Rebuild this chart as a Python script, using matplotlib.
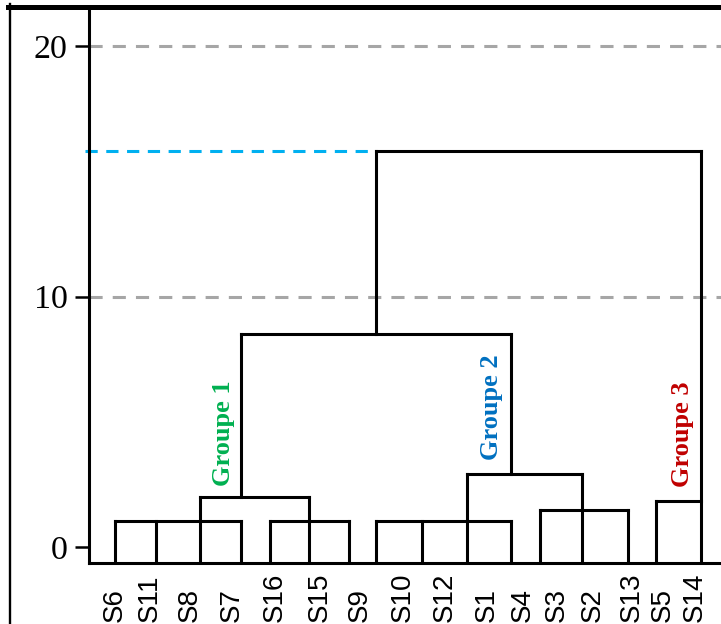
import matplotlib
matplotlib.use("Agg")
import matplotlib.pyplot as plt
from matplotlib.lines import Line2D
from matplotlib.transforms import blended_transform_factory

# leaf order as printed under the tree, and where each label sits
leaf_labels = ["S6", "S11", "S8", "S7", "S16", "S15", "S9", "S10",
               "S12", "S1", "S4", "S3", "S2", "S13", "S5", "S14"]
label_x = [0.65, 1.52, 2.52, 3.57, 4.65, 5.77, 6.77, 7.85,
           8.9, 9.95, 10.85, 11.7, 12.6, 13.57, 14.35, 15.15]

# positions of the leaf branches and the height where each one first joins
leaf_x = [0.65, 1.675, 2.775, 3.8, 4.525, 5.5, 6.5, 7.175,
          8.325, 9.45, 10.55, 11.275, 12.325, 13.475, 14.175, 15.3]
leaf_top = [1.05, 1.05, 2.02, 1.05, 1.05, 1.05, 1.05, 1.05,
            1.05, 1.05, 1.05, 1.49, 2.92, 1.49, 1.86, 15.81]

# horizontal merge bars: leaf index left, leaf index right, height
bar_left = [0, 4, 7, 2, 3, 9, 11, 14, 7]
bar_right = [3, 6, 10, 5, 10, 12, 13, 15, 15]
bar_height = [1.05, 1.05, 1.05, 2.02, 8.51, 2.92, 1.49, 1.86, 15.81]

# vertical stems above the leaves: leaf index, from, to
stem_leaf = [3, 5, 9, 10, 7]
stem_low = [2.02, 1.05, 1.05, 2.92, 8.51]
stem_high = [8.51, 2.02, 2.92, 8.51, 15.81]

cut_height = 15.81
ref_lines = [10, 20]
yticks = [0, 10, 20]

groups = ["Groupe 1", "Groupe 2", "Groupe 3"]
group_x = [3.37, 10.07, 14.85]
group_y = [4.54, 5.58, 4.52]
group_color = ["#00b050", "#0070c0", "#c00000"]

Y_MIN, Y_MAX = -0.64, 21.55

fig = plt.figure(figsize=(7.21, 6.24), dpi=100)
ax = fig.add_axes([89 / 721, 60.7 / 624, 641 / 721, 556.3 / 624])
ax.set_xlim(0, 16.025)
ax.set_ylim(Y_MIN, Y_MAX)

lw = 2.2
for y in ref_lines:
    ax.axhline(y, color="#a6a6a6", lw=lw, dashes=(4.3, 3.3), zorder=1)
ax.plot([-0.1, leaf_x[7]], [cut_height, cut_height], color="#00b0f0", lw=lw,
        dashes=(4.0, 2.8), clip_on=False, zorder=1)

seg = dict(color="black", lw=lw, solid_capstyle="projecting", zorder=3)
for x, top in zip(leaf_x, leaf_top):
    ax.plot([x, x], [Y_MIN, top], **seg)
for i, j, h in zip(bar_left, bar_right, bar_height):
    ax.plot([leaf_x[i], leaf_x[j]], [h, h], **seg)
for i, lo, hi in zip(stem_leaf, stem_low, stem_high):
    ax.plot([leaf_x[i], leaf_x[i]], [lo, hi], **seg)

for name, x, y, c in zip(groups, group_x, group_y, group_color):
    ax.text(x, y, name, rotation=90, ha="center", va="center", color=c,
            fontsize=19, fontweight="bold", family="Liberation Serif")

# leaf labels hang from the bottom edge of the picture
tr = blended_transform_factory(ax.transData, fig.transFigure)
for name, x in zip(leaf_labels, label_x):
    ax.text(x, 2.5 / 624, name, rotation=90, ha="center", va="bottom",
            fontsize=20, family="Liberation Sans", transform=tr)

ax.set_xticks([])
ax.set_yticks(yticks)
ax.set_yticklabels([str(t) for t in yticks], family="Liberation Serif", fontsize=24.5)
ax.tick_params(axis="y", length=10, width=1.8, pad=5.5)
ax.spines["top"].set_visible(False)
ax.spines["right"].set_visible(False)
ax.spines["left"].set_linewidth(lw)
ax.spines["bottom"].set_linewidth(lw)

# outer frame of the cropped figure
fig.add_artist(Line2D([8 / 721, 1], [1 - 6.5 / 624, 1 - 6.5 / 624],
                      color="black", lw=3.6, transform=fig.transFigure))
fig.add_artist(Line2D([9.5 / 721, 9.5 / 721], [0, 1 - 4 / 624],
                      color="black", lw=1.7, transform=fig.transFigure))

fig.savefig("out.png", dpi=100)
